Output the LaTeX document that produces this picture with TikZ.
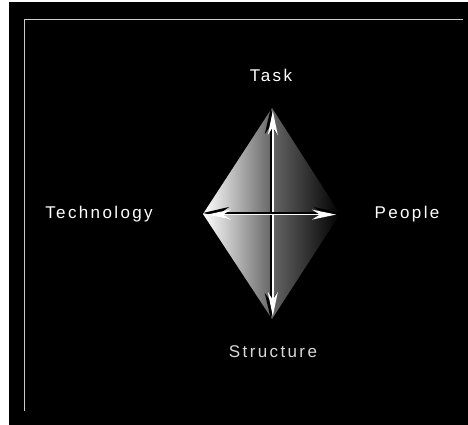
\documentclass[tikz,border=0pt]{standalone}
\usepackage{fontspec}
\setmainfont{Liberation Sans}
\usetikzlibrary{arrows.meta}
\begin{document}
\begin{tikzpicture}[x=1pt,y=1pt,
  lbl/.style={text=white,font=\fontsize{17}{19}\selectfont\addfontfeatures{LetterSpace=14}},
  shadowarrow/.style={draw=black,line width=2.6pt,{Stealth[length=26pt,width=12pt]}-{Stealth[length=26pt,width=12pt]}},
  whitearrow/.style={draw=white,line width=1.6pt,{Stealth[length=24pt,width=10pt]}-{Stealth[length=24pt,width=10pt]}},
  frameline/.style={draw=white!80!black,line width=0.9pt}]
\useasboundingbox (0,0) rectangle (468,425);
\fill[white] (0,0) rectangle (468,425);
\fill[black] (9,0) rectangle (468,423);
% inner frame
\coordinate (fa) at (24,14);
\coordinate (fb) at (24,406);
\coordinate (fc) at (463,406);
\draw[frameline] (fa) -- (fb) -- (fc);
% diamond
\coordinate (T) at (272,317);
\coordinate (L) at (203,211);
\coordinate (B) at (272,106);
\coordinate (R) at (340,211);
\shade[left color=white,right color=black,middle color=white!40!black] (T) -- (R) -- (B) -- (L) -- cycle;
% arrows
\draw[shadowarrow] ([xshift=-1.2pt]B) -- ([xshift=-1.2pt]T);
\draw[whitearrow] ([xshift=0.8pt,yshift=3pt]B) -- ([xshift=0.8pt,yshift=-3pt]T);
\draw[shadowarrow] ([yshift=1pt]R) -- ([yshift=1pt]L);
\draw[whitearrow] ([xshift=-4pt,yshift=-0.6pt]R) -- ([xshift=4pt,yshift=-0.6pt]L);
% labels
\node[lbl] (task) at (271,350) {Task};
\node[lbl] (tech) at (99,211) {Technology};
\node[lbl] (people) at (407,211) {People};
\node[lbl,text=white!85!black] (struct) at (273,73) {Structure};
\end{tikzpicture}
\end{document}
